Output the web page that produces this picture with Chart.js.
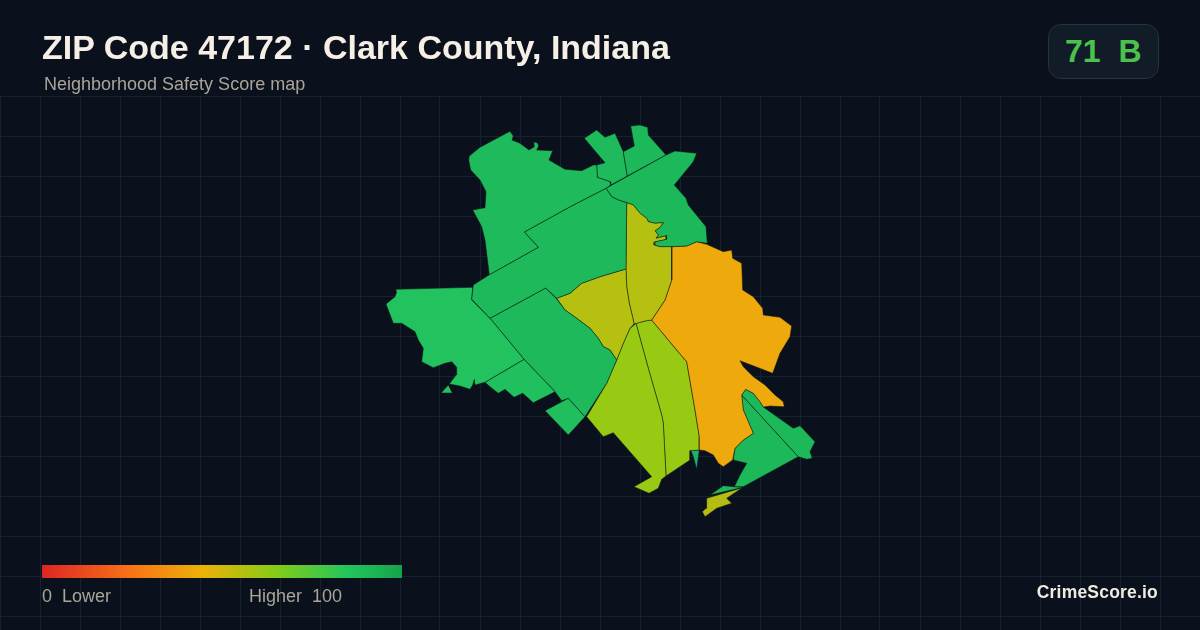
<!DOCTYPE html>
<html>
<head>
<meta charset="utf-8">
<title>ZIP Code 47172</title>
<script src="https://cdn.jsdelivr.net/npm/chart.js@4"></script>
<style>
  html,body{margin:0;padding:0;background:#0a111c;overflow:hidden}
  #wrap{position:relative;width:1200px;height:630px;font-family:"Liberation Sans",Arial,sans-serif}
  #map{position:absolute;left:0;top:0}
  .t{position:absolute;white-space:pre;line-height:1}
  #title{left:42px;top:30px;font-size:34px;font-weight:700;color:#f6efe5}
  #sub{left:44px;top:75px;font-size:18px;color:#a9a599}
  #badge{position:absolute;left:1048px;top:24px;width:109px;height:53px;border:1px solid #25323f;border-radius:13px;background:#111c28}
  #score{left:1065px;top:35px;font-size:32px;font-weight:700;color:#4bc24c}
  #bar{position:absolute;left:42px;top:565px;width:360px;height:13px;
    background:linear-gradient(90deg,#dc2626 0%,#f97316 25%,#eab308 45%,#84cc16 65%,#22c55e 85%,#16a34a 100%)}
  .leg{top:587px;font-size:18px;color:#a9a599}
  #brand{right:42px;top:584px;font-size:17.5px;font-weight:700;letter-spacing:.2px;color:#efeae2}
</style>
</head>
<body>
<div id="wrap">
  <canvas id="map" width="1200" height="630"></canvas>
  <div class="t" id="title">ZIP Code 47172 · Clark County, Indiana</div>
  <div class="t" id="sub">Neighborhood Safety Score map</div>
  <div id="badge"></div>
  <div class="t" id="score">71  B</div>
  <div id="bar"></div>
  <div class="t leg" style="left:42px">0  Lower</div>
  <div class="t leg" style="left:249px">Higher  100</div>
  <div class="t" id="brand">CrimeScore.io</div>
</div>
<script>
// tract outlines as [x, y] on the map's own axes
const northwest = [[469.3,156],[480,147.3],[510,131.3],[513.3,136],[512,140],[520,143.3],[529,150],[534.3,146.7],[533.7,142],[537.3,142.7],[538.7,146],[536.7,150],[552.7,150.7],[549,160],[565,169.3],[581.7,170.7],[593.3,165],[596.7,165],[597.3,177.3],[610,181.7],[610.7,185],[606,188.3],[573.3,205],[524.3,232],[538.3,247.3],[489.3,274.7],[485,240],[481.7,226.7],[472.7,210],[485,207.7],[486,191.7],[480,180],[470.7,170],[468.7,160]];
const midNorth = [[606,188.3],[611.7,196.7],[618.3,200],[626.7,202.7],[626,269],[600,276.7],[581.7,283.3],[570,293.3],[556.7,298.3],[545.7,288],[490,318.3],[471.7,299.3],[473.3,285],[489.3,274.7],[538.3,247.3],[524.3,232],[573.3,205]];
const west = [[396,289.3],[472.7,287.3],[471.7,300],[490,318.3],[524,359.3],[485,382.3],[475,385],[474.3,379.3],[472.7,385],[470,389.3],[460,386],[449.3,384],[456,375],[456.7,367.3],[451.7,361.7],[445,363.3],[433.3,367.7],[421.7,361.7],[423.3,348.3],[418.3,340],[415,331.7],[401.7,323.3],[393.3,323.3],[386,304],[395,296.7],[396.7,291.7]];
const westIslet = [[448.3,385],[441,393],[452.3,393]];
const southwestStrip = [[524,359.3],[555,391.7],[533.3,402.7],[522.7,393.3],[514,397.3],[505,389.3],[498.3,393.3],[490,386.7],[485,382.3]];
const central = [[545.7,288],[556.7,299],[565,310],[576.7,318.3],[590,328.3],[598.3,338.3],[603.3,346.7],[610,350],[616.7,360],[606.7,383.3],[585,416.7],[568.3,398.3],[561.7,400.7],[555,391.7],[524,359.3],[490,318.3]];
const diamond = [[568.3,398.3],[585,416.7],[568.3,435],[545,410.7]];
const yellowWest = [[556.7,298.3],[570,293.3],[581.7,283.3],[600,276.7],[626,269],[626.7,286.7],[629.3,303.3],[633.3,320],[634,324],[630,328.3],[623.3,343.3],[616.7,360],[610,350],[603.3,346.7],[598.3,338.3],[590,328.3],[576.7,318.3],[565,310]];
const yellowNorth = [[626.7,202.7],[633.3,205],[640,213.3],[646.7,218.3],[648.3,221.7],[655,223.3],[663.3,222.7],[660,227.3],[655,230.7],[658.3,235],[656,238.3],[666.7,235.7],[666,239.3],[655,241.7],[654,245],[660,246.7],[671.7,246.7],[671.7,280],[665,300],[651.7,320],[645,321],[636,323.5],[634,324],[633.3,320],[629.3,303.3],[626.7,286.7],[626,269]];
const northeast = [[606,188.3],[666,155],[675,151],[696.7,153.3],[693.3,161.7],[674.3,185],[686,198.3],[688.3,205],[706,226.7],[707.3,243.3],[696.7,241.7],[686.7,246],[671.7,246.7],[660,246.7],[654,245],[655,241.7],[666,239.3],[666.7,235.7],[656,238.3],[658.3,235],[655,230.7],[660,227.3],[663.3,222.7],[655,223.3],[648.3,221.7],[646.7,218.3],[640,213.3],[633.3,205],[626.7,202.7],[618.3,200],[611.7,196.7]];
const northArm = [[630.7,126],[640,125],[647.7,127.3],[648.3,135],[666,155],[627.3,176],[623.3,151.7],[634.3,146]];
const northPeak = [[584.3,138.3],[596.7,130],[605,137.3],[615,133.3],[623.3,151.7],[627.3,176],[611,185],[610,181.7],[597.3,177.3],[596.7,165],[605,162.7]];
const orange = [[671.7,246.7],[686.7,246],[696.7,241.7],[706.7,244.3],[723.3,251.7],[731.7,250],[732.7,258.3],[741.7,263.3],[742.7,290],[753.3,296.7],[762.7,308.3],[763.3,315],[780,317.3],[791.7,326],[790,336.7],[780,353.3],[772.7,373.3],[740,360.7],[743.3,366.7],[753.3,376.7],[765,385],[775,395],[783.3,401.7],[784.3,406.7],[770,406],[763.3,407],[760,401.7],[753.3,393.3],[745.7,389.3],[741.7,395],[743.3,410],[753.3,433.3],[743.3,440],[735,448.3],[732.7,460],[723.3,466.7],[718.3,463.3],[713.3,455],[705,450.7],[699.3,450],[699.3,436.7],[695,410],[686.7,361.7],[676.7,350],[651.7,320],[665,300],[671.7,280]];
const limeWest = [[630,328.3],[636,323.5],[648.3,368.3],[661.7,415],[663.3,423.3],[666,476],[661.7,479.3],[658.3,488.3],[649,493.3],[634,486.7],[651.7,476.7],[613.3,432.7],[603.3,436.7],[586.7,416.7],[606.7,383.3],[616.7,360],[623.3,343.3]];
const limeEast = [[636,323.5],[645,321],[651.7,320],[676.7,350],[686.7,361.7],[695,410],[699.3,436.7],[699.3,450],[690,450.7],[690,460],[666,476],[663.3,423.3],[661.7,415],[648.3,368.3]];
const sliver = [[691,450.7],[699.3,450],[696.7,469.3],[693.3,456.7]];
const southeastOuter = [[741.7,395],[745.7,389.3],[753.3,393.3],[760,401.7],[763.3,407],[793.3,428.3],[800,425.7],[815,441.7],[810,451.7],[812.3,458.3],[806.7,459.3],[798.3,456.7]];
const southeastInner = [[741.7,395],[798.3,456.7],[743.3,486.7],[734.3,486.7],[740,475],[746.7,463.3],[733.3,460],[735,448.3],[743.3,440],[753.3,433.3],[743.3,410]];
const riverStrip = [[710,495],[723.3,485.7],[734.3,486.7],[743.3,487.3]];
const riverYellow = [[706.7,498.3],[742.3,487.7],[726.7,498.3],[731.7,503.3],[716.7,508.3],[705,516.7],[702.3,511.7],[706,508.3]];

const tracts = [northwest, midNorth, west, westIslet, southwestStrip, central, diamond, yellowWest, yellowNorth, northeast, northArm, northPeak, orange, limeWest, limeEast, sliver, southeastOuter, southeastInner, riverStrip, riverYellow];
const tractColors = ["#1fba5c","#1db95b","#22c25f","#22c25f","#21c05e","#1db95b","#20be5d","#b6c011","#b6c011","#1cb85a","#1cb85a","#1fba5c","#eea90c","#98ca14","#98ca14","#1cb070","#1cb85a","#1cb85a","#20b85c","#b5bd13"];
const gridX = Array.from({length:31},(_,i)=>i*40);
const gridY = Array.from({length:14},(_,i)=>96+i*40);

new Chart(document.getElementById("map"), {
  type: "line",
  data: {
    datasets: tracts.map((t,i)=>({
      data: t.concat([t[0]]).map(p=>({x:p[0],y:p[1]})),
      fill: "shape",
      backgroundColor: tractColors[i],
      borderColor: "rgba(10,24,20,0.85)",
      borderWidth: 0.6,
      pointRadius: 0,
      tension: 0,
      clip: false
    }))
  },
  options: {
    responsive: false,
    animation: false,
    layout: {padding: {top: 96}},
    plugins: {legend: {display:false}, tooltip: {enabled:false}},
    scales: {
      x: {type:"linear", min:0, max:1200,
        afterBuildTicks: s => { s.ticks = gridX.map(v=>({value:v})); },
        ticks:{display:false}, border:{display:false},
        grid:{color:"#152230", lineWidth:1, drawTicks:false}},
      y: {type:"linear", min:96, max:630, reverse:true,
        afterBuildTicks: s => { s.ticks = gridY.map(v=>({value:v})); },
        ticks:{display:false}, border:{display:false},
        grid:{color:"#152230", lineWidth:1, drawTicks:false}}
    }
  }
});
</script>
</body>
</html>
